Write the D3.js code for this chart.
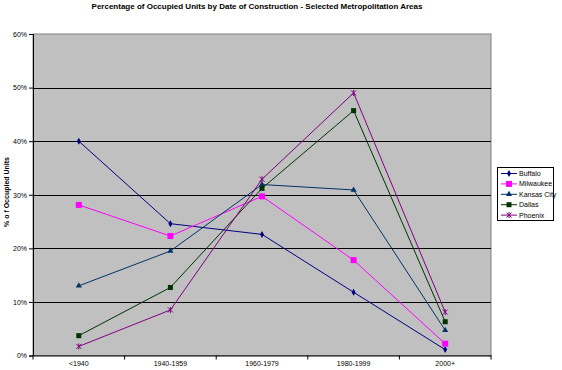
<!DOCTYPE html>
<html>
<head>
<meta charset="utf-8">
<script src="https://cdn.jsdelivr.net/npm/d3@7"></script>
<style>
body { margin: 0; background: #fff; }
svg text { font-family: "Liberation Sans", Arial, sans-serif; }
</style>
</head>
<body>
<svg id="chart" width="562" height="370"></svg>
<script>
// data
var periods = ["<1940", "1940-1959", "1960-1979", "1980-1999", "2000+"];
var yTicks = [0, 0.1, 0.2, 0.3, 0.4, 0.5, 0.6];
var buffalo = [0.400, 0.246, 0.226, 0.118, 0.011];
var milwaukee = [0.281, 0.223, 0.297, 0.178, 0.022];
var kansasCity = [0.130, 0.195, 0.319, 0.309, 0.047];
var dallas = [0.037, 0.127, 0.312, 0.457, 0.063];
var phoenix = [0.017, 0.085, 0.329, 0.490, 0.081];

var series = [
    {name: "Buffalo", values: buffalo, color: "#000080", marker: "diamond"},
    {name: "Milwaukee", values: milwaukee, color: "#FF00FF", marker: "square"},
    {name: "Kansas City", values: kansasCity, color: "#003366", marker: "triangle"},
    {name: "Dallas", values: dallas, color: "#003300", marker: "square"},
    {name: "Phoenix", values: phoenix, color: "#800080", marker: "star"}
];

drawChart();

function drawChart(){
    var svg = d3.select("#chart");
    var plotLeft = 33, plotRight = 491, plotTop = 34, plotBottom = 355.5;

    var x = d3.scaleBand().domain(periods).range([plotLeft, plotRight]);
    var y = d3.scaleLinear().domain([0, 0.6]).range([plotBottom, plotTop]);

    // plot area
    svg.append("rect")
        .attr("x", plotLeft).attr("y", plotTop)
        .attr("width", plotRight - plotLeft).attr("height", plotBottom - plotTop)
        .style("fill", "#C0C0C0")
        .style("stroke", "#808080")
        .style("stroke-width", 1);

    // gridlines
    svg.selectAll(".grid")
        .data(yTicks.filter(function(d){ return d > 0 && d < 0.6; }))
        .enter().append("line")
        .attr("x1", plotLeft).attr("x2", plotRight)
        .attr("y1", function(d){ return Math.round(y(d)) + 0.5; })
        .attr("y2", function(d){ return Math.round(y(d)) + 0.5; })
        .style("stroke", "#000")
        .style("stroke-width", 1.2);

    // y axis
    var yAxis = svg.append("g")
        .attr("transform", "translate(" + plotLeft + ",0)")
        .call(d3.axisLeft(y).tickValues(yTicks).tickFormat(d3.format(".0%")).tickSizeOuter(0).tickSize(4));
    yAxis.select(".domain").style("stroke", "#000");
    yAxis.selectAll("text").style("font-size", "7px").style("fill", "#000").attr("x", -6);

    // x axis
    var xAxis = svg.append("g")
        .attr("transform", "translate(0," + plotBottom + ")")
        .call(d3.axisBottom(x).tickSize(0).tickSizeOuter(0));
    xAxis.select(".domain").style("stroke", "#000");
    xAxis.selectAll("text").style("font-size", "7px").style("fill", "#000").attr("y", 6);
    svg.selectAll(".xtick")
        .data(d3.range(periods.length + 1))
        .enter().append("line")
        .attr("x1", function(i){ return plotLeft + i * x.step(); })
        .attr("x2", function(i){ return plotLeft + i * x.step(); })
        .attr("y1", plotBottom).attr("y2", plotBottom + 4)
        .style("stroke", "#000");

    function cx(i){ return x(periods[i]) + x.bandwidth() / 2; }

    var line = d3.line()
        .x(function(d, i){ return cx(i); })
        .y(function(d){ return y(d); });

    series.forEach(function(s){
        svg.append("path")
            .datum(s.values)
            .attr("d", line)
            .style("fill", "none")
            .style("stroke", s.color)
            .style("stroke-width", 1);
        var g = svg.append("g");
        s.values.forEach(function(v, i){
            drawMarker(g, s.marker, s.color, cx(i), y(v));
        });
    });

    // title
    svg.append("text")
        .attr("x", 257).attr("y", 9)
        .attr("text-anchor", "middle")
        .style("font-size", "8px").style("font-weight", "bold")
        .text("Percentage of Occupied Units by Date of Construction - Selected Metropolitation Areas");

    // y axis title
    svg.append("text")
        .attr("transform", "translate(9,192) rotate(-90)")
        .attr("text-anchor", "middle")
        .style("font-size", "7px").style("font-weight", "bold")
        .text("% o f Occupied Units");

    // legend
    var lg = svg.append("g");
    lg.append("rect")
        .attr("x", 497.5).attr("y", 167.5)
        .attr("width", 56).attr("height", 53)
        .style("fill", "#fff").style("stroke", "#000");
    series.forEach(function(s, i){
        var ly = 173.5 + i * 10.4;
        lg.append("line")
            .attr("x1", 501).attr("x2", 517)
            .attr("y1", ly).attr("y2", ly)
            .style("stroke", s.color).style("stroke-width", 1);
        drawMarker(lg, s.marker, s.color, 509, ly);
        lg.append("text")
            .attr("x", 519).attr("y", ly + 2.5)
            .style("font-size", "7px")
            .text(s.name);
    });
}

function drawMarker(g, type, color, px, py) {
    if (type == "diamond") {
        g.append("path").attr("d", d3.symbol().type(d3.symbolDiamond).size(14)())
            .attr("transform", "translate(" + px + "," + py + ")").style("fill", color);
    } else if (type == "square") {
        var s = color == "#FF00FF" ? 6 : 5;
        g.append("rect").attr("x", px - s / 2).attr("y", py - s / 2)
            .attr("width", s).attr("height", s).style("fill", color);
    } else if (type == "triangle") {
        g.append("path").attr("d", d3.symbol().type(d3.symbolTriangle).size(16)())
            .attr("transform", "translate(" + px + "," + py + ")").style("fill", color);
    } else {
        g.append("path").attr("d", "M-2.5,-2.5L2.5,2.5M2.5,-2.5L-2.5,2.5M0,-3V3")
            .attr("transform", "translate(" + px + "," + py + ")")
            .style("stroke", color).style("stroke-width", 1);
    }
}
</script>
</body>
</html>
